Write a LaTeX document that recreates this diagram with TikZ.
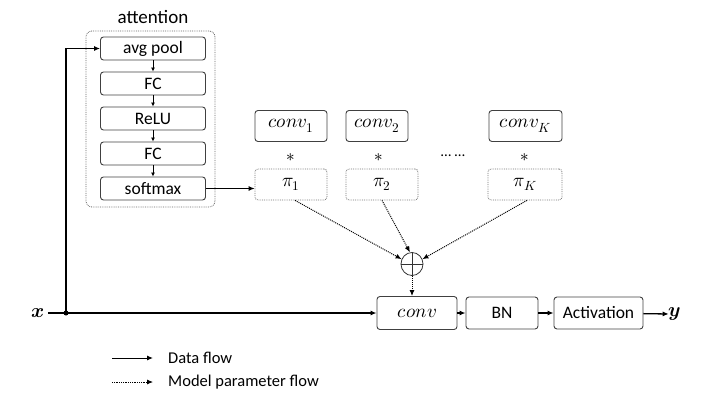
\documentclass[tikz,border=0pt]{standalone}
\usepackage{fontspec}
\usepackage{unicode-math}
\setmainfont{Carlito}
\setmathfont{Latin Modern Math}
\usetikzlibrary{arrows.meta,shapes.geometric}
\tikzset{
  box/.style={draw=black!75, rounded corners=3pt, line width=0.9pt, minimum height=23pt, inner sep=0pt, font=\fontsize{17.5}{20}\selectfont},
  pbox/.style={draw=black!55, densely dotted, rounded corners=3pt, line width=0.8pt, minimum height=31pt, inner sep=0pt, font=\fontsize{19}{22}\selectfont},
  mbox/.style={box, font=\fontsize{19}{22}\selectfont},
  data/.style={line width=1.3pt, -{Latex[length=6pt,width=5pt]}},
  param/.style={densely dotted, line width=1pt, -{Latex[length=6pt,width=5pt]}},
  lbl/.style={inner sep=0pt, font=\fontsize{17}{20}\selectfont},
}
\begin{document}
\begin{tikzpicture}[x=1pt,y=-1pt]
\useasboundingbox (0,0) rectangle (712,407);
% attention block
\node[draw=black!60, densely dotted, rounded corners=6pt, line width=0.8pt, minimum width=129pt, minimum height=176pt] (att) at (150.5,119) {};
\node[lbl, font=\fontsize{19}{22}\selectfont] (attl) at (153,17) {attention};
\node[box, minimum width=105pt] (avg) at (153,48.5) {avg pool};
\node[box, minimum width=105pt] (fc1) at (153,83.5) {FC};
\node[box, minimum width=105pt] (relu) at (153,118.5) {ReLU};
\node[box, minimum width=105pt] (fc2) at (153,153.5) {FC};
\node[box, minimum width=105pt] (soft) at (153,188.5) {softmax};
\draw[data, line width=1pt, -{Latex[length=4pt,width=4pt]}] (avg) -- (fc1);
\draw[data, line width=1pt, -{Latex[length=4pt,width=4pt]}] (fc1) -- (relu);
\draw[data, line width=1pt, -{Latex[length=4pt,width=4pt]}] (relu) -- (fc2);
\draw[data, line width=1pt, -{Latex[length=4pt,width=4pt]}] (fc2) -- (soft);
% kernels
\node[mbox, minimum width=72pt, minimum height=31pt] (c1) at (291,126) {$conv_1$};
\node[mbox, minimum width=62pt, minimum height=31pt] (c2) at (377,126) {$conv_2$};
\node[mbox, minimum width=73pt, minimum height=31pt] (cK) at (525.5,126) {$conv_K$};
\node[lbl] (s1) at (291,158) {$*$};
\node[lbl] (s2) at (379,158) {$*$};
\node[lbl] (sK) at (525,158) {$*$};
\node[lbl, font=\fontsize{15}{18}\selectfont] (dots) at (453,156) {…\ …};
\node[pbox, minimum width=72pt] (p1) at (291,184.5) {$\pi_1$};
\node[pbox, minimum width=72pt] (p2) at (382,184.5) {$\pi_2$};
\node[pbox, minimum width=74pt] (pK) at (525,184.5) {$\pi_K$};
\draw[data, line width=1pt] (soft.east) -- (p1.west |- soft.east);
% sum
\node[draw=black!80, ellipse, line width=0.8pt, minimum width=22pt, minimum height=23pt, inner sep=0pt] (op) at (412,264) {};
\draw[line width=0.8pt, black!80] (op.north) -- (op.south) (op.west) -- (op.east);
\draw[param] (p1.south) ++(4,0) coordinate (p1s) -- (op.155);
\draw[param] (p2.south) coordinate (p2s) -- (op.100);
\draw[param] (pK.south) ++(2,0) coordinate (pKs) -- (op.25);
% main path
\node[lbl, font=\fontsize{20}{22}\selectfont] (x) at (38,313) {$\symbfit{x}$};
\node[mbox, minimum width=80pt, minimum height=33pt] (conv) at (417,313) {$conv$};
\node[box, minimum width=72pt, minimum height=32pt] (bn) at (502,313) {BN};
\node[box, minimum width=89pt, minimum height=32pt] (act) at (598.5,313) {Activation};
\node[lbl, font=\fontsize{20}{22}\selectfont] (y) at (675,314) {$\symbfit{y}$};
\draw[param] (op.south) -- (conv.north -| op.south);
\coordinate (dot) at (66,313);
\fill (dot) circle (2.5pt);
\draw[line width=1.3pt] (x.east) ++(3,0) -- (dot);
\draw[data] (dot) -- (conv.west);
\draw[data] (dot) |- (avg.west);
\draw[data] (conv) -- (bn);
\draw[data] (bn) -- (act);
\draw[data] (act) -- (y.west);
% legend
\coordinate (l1a) at (112,358);
\coordinate (l1b) at (153,358);
\coordinate (l2a) at (112,382);
\coordinate (l2b) at (153,382);
\draw[data, line width=1pt] (l1a) -- (l1b);
\draw[param, line width=0.8pt] (l2a) -- (l2b);
\node[lbl, anchor=west, font=\fontsize{16.5}{19}\selectfont] (t1) at (168,358) {Data flow};
\node[lbl, anchor=west, font=\fontsize{16.5}{19}\selectfont] (t2) at (168,382) {Model parameter flow};
\end{tikzpicture}
\end{document}
